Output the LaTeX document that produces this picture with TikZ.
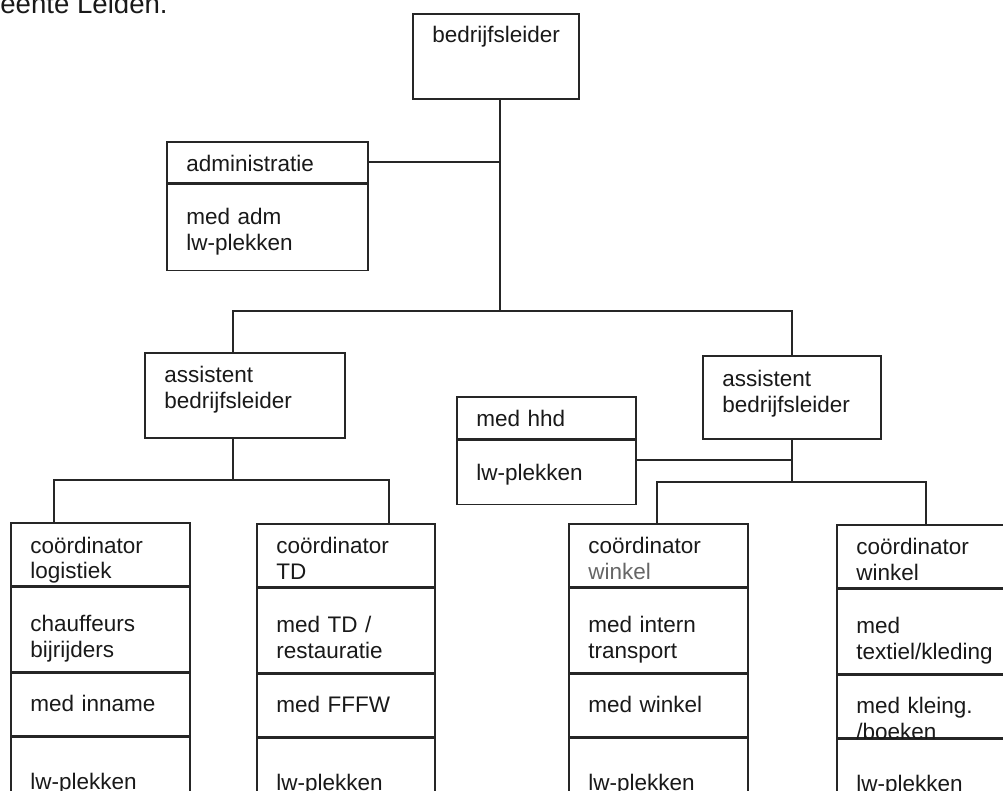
\documentclass[tikz,border=0pt]{standalone}
\usepackage{fontspec}
\setmainfont{Liberation Sans}
\def\px{0.5pt}

\begin{document}
\begin{tikzpicture}[x=0.5pt,y=-0.5pt]
		\tikzstyle{cell}=[draw=black!85,line width=0.8pt,rectangle,anchor=north west,inner sep=0pt]
		\tikzstyle{lbl}=[anchor=base west,inner sep=0pt,text width=90pt,align=left,text=black!90,font=\fontsize{11.25}{13}\selectfont]
		\tikzstyle{wire}=[draw=black!85,line width=0.8pt]

		\useasboundingbox (0,0) rectangle (1003,791);

			% Text cut off at the top of the page
		\node[anchor=base west,inner sep=0pt,text=black!90,font=\fontsize{13.8}{16}\selectfont] (head) at (0,14) {eente Leiden.};

			% Draw the top box and the staff box
		\node[cell,minimum width=166*\px,minimum height=85*\px] (boss) at (412,13) {};
		\node[lbl] (boss-t) at ([shift={(20,30)}]boss.north west) {bedrijfsleider};

		\node[cell,minimum width=201*\px,minimum height=41*\px] (admin-1) at (166,141) {};
		\node[cell,minimum width=201*\px,minimum height=86*\px] (admin-2) at (admin-1.south west) {};
		\node[lbl] (admin-1t) at ([shift={(20,31)}]admin-1.north west) {administratie};
		\node[lbl] (admin-2t) at ([shift={(20,41)}]admin-2.north west) {med adm\\lw-plekken};

			% Draw the two assistants and the hhd box
		\node[cell,minimum width=200*\px,minimum height=85*\px] (asl) at (144,352) {};
		\node[lbl] (asl-t) at ([shift={(20,31)}]asl.north west) {assistent\\bedrijfsleider};
		\node[cell,minimum width=178*\px,minimum height=83*\px] (asr) at (702,355) {};
		\node[lbl] (asr-t) at ([shift={(20,32)}]asr.north west) {assistent\\bedrijfsleider};

		\node[cell,minimum width=179*\px,minimum height=42*\px] (hhd-1) at (456,396) {};
		\node[cell,minimum width=179*\px,minimum height=64*\px] (hhd-2) at (hhd-1.south west) {};
		\node[lbl] (hhd-1t) at ([shift={(20,31)}]hhd-1.north west) {med hhd};
		\node[lbl] (hhd-2t) at ([shift={(20,41)}]hhd-2.north west) {lw-plekken};

			% Draw the four boxes of the bottom row
		\foreach \n/\x/\y/\w/\cx/\cy in {1/10/522/179/54/480, 2/256/523/178/389/480, 3/568/523/179/657/482, 4/836/524/179/926/482}
		{
		\node[cell,minimum width=\w*\px,minimum height=63*\px] (K\n-1) at (\x,\y) {};
		\node[cell,minimum width=\w*\px,minimum height=84*\px] (K\n-2) at (K\n-1.south west) {};
		\node[cell,minimum width=\w*\px,minimum height=63*\px] (K\n-3) at (K\n-2.south west) {};
		\node[cell,minimum width=\w*\px,minimum height=120*\px] (K\n-4) at (K\n-3.south west) {};
		\coordinate (C\n) at (\cx,\cy);
		}

		\foreach \n/\ta/\tb/\tc in {1/{coördinator\\logistiek}/{chauffeurs\\bijrijders}/{med inname},
			2/{coördinator\\TD}/{med TD /\\restauratie}/{med FFFW},
			3/{coördinator\\\textcolor{black!60}{winkel}}/{med intern\\transport}/{med winkel},
			4/{coördinator\\winkel}/{med\\textiel/kleding}/{med kleing.\\/boeken}}
		{
		\node[lbl] (K\n-1t) at ([shift={(20,31)}]K\n-1.north west) {\ta};
		\node[lbl] (K\n-2t) at ([shift={(20,45)}]K\n-2.north west) {\tb};
		\node[lbl] (K\n-3t) at ([shift={(20,39)}]K\n-3.north west) {\tc};
		\node[lbl] (K\n-4t) at ([shift={(20,53)}]K\n-4.north west) {lw-plekken};
		}

			% Connect the top box with the assistants
		\coordinate (T) at (500,311);
		\coordinate (L) at (233,311);
		\coordinate (H) at (791,460);
		\draw[wire] (boss.south -| T) -- (T);
		\draw[wire] (admin-1.east) -- (admin-1.east -| T);
		\draw[wire] (asl.north -| L) -- (L) -| (asr.north);

			% Connect every assistant with its coordinators
		\draw[wire] (asl.south -| L) -- (L |- C1);
		\draw[wire] (K1-1.north -| C1) -- (C1) -- (C2) -- (K2-1.north -| C2);
		\draw[wire] (asr.south) -- (asr.south |- C3);
		\draw[wire] (hhd-2.east |- H) -- (H);
		\draw[wire] (K3-1.north -| C3) -- (C3) -- (C4) -- (K4-1.north -| C4);
\end{tikzpicture}
\end{document}
